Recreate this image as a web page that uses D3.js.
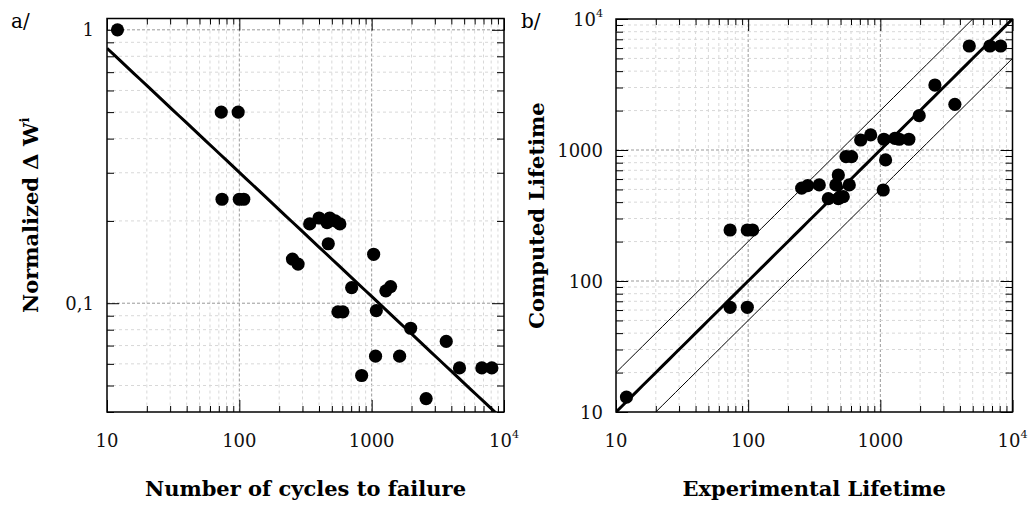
<!DOCTYPE html>
<html><head><meta charset="utf-8">
<script src="https://cdn.jsdelivr.net/npm/d3@7"></script>
<style>body{margin:0;background:#fff} svg{display:block}</style>
</head><body>
<svg id="chart" width="1029" height="506"></svg>
<script>
// ---------- Panel a data ----------
const cyclesA = [12, 73, 98, 74, 100, 108, 340, 400, 460, 482, 530, 575, 470, 252, 278, 706, 1035, 1280, 1390, 556, 606, 1084, 1970, 3660, 1070, 1626, 840, 2580, 4610, 6800, 8090];
const energyA = [1.0, 0.5, 0.5, 0.24, 0.24, 0.24, 0.195, 0.205, 0.197, 0.205, 0.2, 0.195, 0.165, 0.145, 0.139, 0.114, 0.151, 0.111, 0.115, 0.093, 0.093, 0.094, 0.081, 0.0725, 0.064, 0.064, 0.0544, 0.0448, 0.058, 0.058, 0.058];
const fitCoefA = 2.436;   // power-law fit  y = c * N^k
const fitExpA = -0.454;
const xTicksA = [10, 100, 1000, 10000];
const xTickLabelsA = ["10", "100", "1000", "10^4"];
const yTicksA = [0.1, 1];
const yTickLabelsA = ["0,1", "1"];
const xDomainA = [10, 10000];
const yDomainA = [0.04, 1.1];

// ---------- Panel b data ----------
const expB = [12, 73, 98.5, 108, 73, 98.5, 254, 282, 345, 404, 481, 461, 481, 524, 550, 606, 582, 710, 845, 1064, 1096, 1052, 1288, 1390, 1644, 1968, 2588, 3664, 4709, 6750, 8130];
const compB = [13, 245, 245, 245, 63, 63, 511, 534, 541, 425, 644, 541, 425, 440, 890, 890, 541, 1192, 1303, 1208, 840, 495, 1227, 1208, 1208, 1828, 3133, 2233, 6223, 6223, 6223];
const bandFactorsB = [0.5, 1, 2];
const xTicksB = [10, 100, 1000, 10000];
const xTickLabelsB = ["10", "100", "1000", "10^4"];
const yTicksB = [10, 100, 1000, 10000];
const yTickLabelsB = ["10", "100", "1000", "10^4"];
const xDomainB = [10, 10000];
const yDomainB = [10, 10000];

const svg = d3.select("#chart");
const FONT = "'DejaVu Serif', serif";

function minorValues(domain) {
  const out = [];
  const lo = Math.floor(Math.log10(domain[0])), hi = Math.ceil(Math.log10(domain[1]));
  for (let e = lo; e <= hi; e++) for (let k = 1; k <= 9; k++) {
    const v = k * Math.pow(10, e);
    if (v >= domain[0] * 0.9999 && v <= domain[1] * 1.0001) out.push(+v.toPrecision(6));
  }
  return out;
}
function isDecade(v) { const l = Math.log10(v); return Math.abs(l - Math.round(l)) < 1e-6; }

function addLabel(sel, label, fs) {
  const parts = label.split("^");
  sel.append("tspan").text(parts[0]);
  if (parts.length > 1) sel.append("tspan").attr("dy", -9).attr("font-size", fs * 0.62).text(parts[1]);
}

function panel(cfg) {
  const {L, R, T, B} = cfg;
  const x = d3.scaleLog().domain(cfg.xDomain).range([L, R]);
  const y = d3.scaleLog().domain(cfg.yDomain).range([B, T]);
  const g = svg.append("g");
  const xs = minorValues(cfg.xDomain), ys = minorValues(cfg.yDomain);
  // grid
  const grid = g.append("g");
  xs.filter(v => x(v) > L + 1 && x(v) < R - 1).forEach(v => {
    const maj = isDecade(v);
    grid.append("line").attr("x1", x(v)).attr("x2", x(v)).attr("y1", T).attr("y2", B)
      .attr("stroke", maj ? "#9a9a9a" : "#d8d8d8").attr("stroke-width", 1)
      .attr("stroke-dasharray", maj ? "3,2" : "3,3");
  });
  ys.filter(v => y(v) > T + 1 && y(v) < B - 1).forEach(v => {
    const maj = isDecade(v);
    grid.append("line").attr("x1", L).attr("x2", R).attr("y1", y(v)).attr("y2", y(v))
      .attr("stroke", maj ? "#9a9a9a" : "#d8d8d8").attr("stroke-width", 1)
      .attr("stroke-dasharray", maj ? "3,2" : "3,3");
  });
  // ticks (inward, all four sides)
  const xmaj = xs.filter(isDecade), xmin = xs.filter(v => !isDecade(v));
  const ymaj = ys.filter(isDecade), ymin = ys.filter(v => !isDecade(v));
  const tk = (gen, vals, size, tr) => {
    const a = g.append("g").attr("transform", tr)
      .call(gen.tickValues(vals).tickSize(-size).tickFormat(""));
    a.select(".domain").remove();
    a.selectAll("line").attr("stroke", "#000").attr("stroke-width", 1);
  };
  [[xmin, 6], [xmaj, 12]].forEach(([v, s]) => {
    tk(d3.axisBottom(x), v, s, `translate(0,${B})`);
    tk(d3.axisTop(x), v, s, `translate(0,${T})`);
  });
  [[ymin, 7], [ymaj, 12]].forEach(([v, s]) => {
    tk(d3.axisLeft(y), v, s, `translate(${L},0)`);
    tk(d3.axisRight(y), v, s, `translate(${R},0)`);
  });
  // clip
  const cid = "clip" + cfg.id;
  svg.append("clipPath").attr("id", cid).append("rect")
    .attr("x", L).attr("y", T).attr("width", R - L).attr("height", B - T);
  const plot = g.append("g").attr("clip-path", `url(#${cid})`);
  cfg.lines.forEach(ln => {
    const pts = d3.range(0, 61).map(i => {
      const xv = cfg.xDomain[0] * Math.pow(cfg.xDomain[1] / cfg.xDomain[0], i / 60);
      return [x(xv), y(ln.f(xv))];
    });
    plot.append("path").attr("d", d3.line()(pts)).attr("fill", "none")
      .attr("stroke", "#000").attr("stroke-width", ln.w);
  });
  // points
  g.append("g").selectAll("circle").data(d3.zip(cfg.xs, cfg.ys)).join("circle")
    .attr("cx", d => x(d[0])).attr("cy", d => y(d[1])).attr("r", 6.6).attr("fill", "#000");
  // frame
  g.append("rect").attr("x", L).attr("y", T).attr("width", R - L).attr("height", B - T)
    .attr("fill", "none").attr("stroke", "#000").attr("stroke-width", 1.5);
  // tick labels
  cfg.xTicks.forEach((v, i) => {
    const t = g.append("text").attr("x", x(v)).attr("y", B + 35).attr("text-anchor", "middle")
      .attr("font-family", FONT).attr("font-size", 18).attr("fill", "#111");
    addLabel(t, cfg.xTickLabels[i], 18);
  });
  cfg.yTicks.forEach((v, i) => {
    const t = g.append("text").attr("x", L - 13).attr("y", y(v) + 6.5).attr("text-anchor", "end")
      .attr("font-family", FONT).attr("font-size", 18).attr("fill", "#111");
    addLabel(t, cfg.yTickLabels[i], 18);
  });
  // axis titles
  g.append("text").attr("x", (L + R) / 2).attr("y", 496).attr("text-anchor", "middle")
    .attr("font-family", FONT).attr("font-weight", "bold").attr("font-size", 21).text(cfg.xTitle);
  const yt = g.append("text").attr("transform", `translate(${cfg.yTitleX},${(T + B) / 2}) rotate(-90)`)
    .attr("text-anchor", "middle").attr("font-family", FONT).attr("font-weight", "bold").attr("font-size", 21);
  addLabel(yt, cfg.yTitle, 21);
  // panel tag
  g.append("text").attr("x", cfg.tagX).attr("y", 28).attr("font-family", FONT).attr("font-size", 20)
    .text(cfg.tag);
}

panel({
  id: "a", L: 107, R: 504, T: 18.5, B: 412,
  xDomain: xDomainA, yDomain: yDomainA, xs: cyclesA, ys: energyA,
  lines: [{f: n => fitCoefA * Math.pow(n, fitExpA), w: 3}],
  xTicks: xTicksA, xTickLabels: xTickLabelsA, yTicks: yTicksA, yTickLabels: yTickLabelsA,
  xTitle: "Number of cycles to failure", yTitle: "Normalized \u0394 W^i", yTitleX: 38,
  tag: "a/", tagX: 11
});
panel({
  id: "b", L: 616, R: 1012.5, T: 19, B: 412,
  xDomain: xDomainB, yDomain: yDomainB, xs: expB, ys: compB,
  lines: bandFactorsB.map(k => ({f: n => k * n, w: k === 1 ? 3 : 1})),
  xTicks: xTicksB, xTickLabels: xTickLabelsB, yTicks: yTicksB, yTickLabels: yTickLabelsB,
  xTitle: "Experimental Lifetime", yTitle: "Computed Lifetime", yTitleX: 544,
  tag: "b/", tagX: 521
});
</script>
</body></html>
